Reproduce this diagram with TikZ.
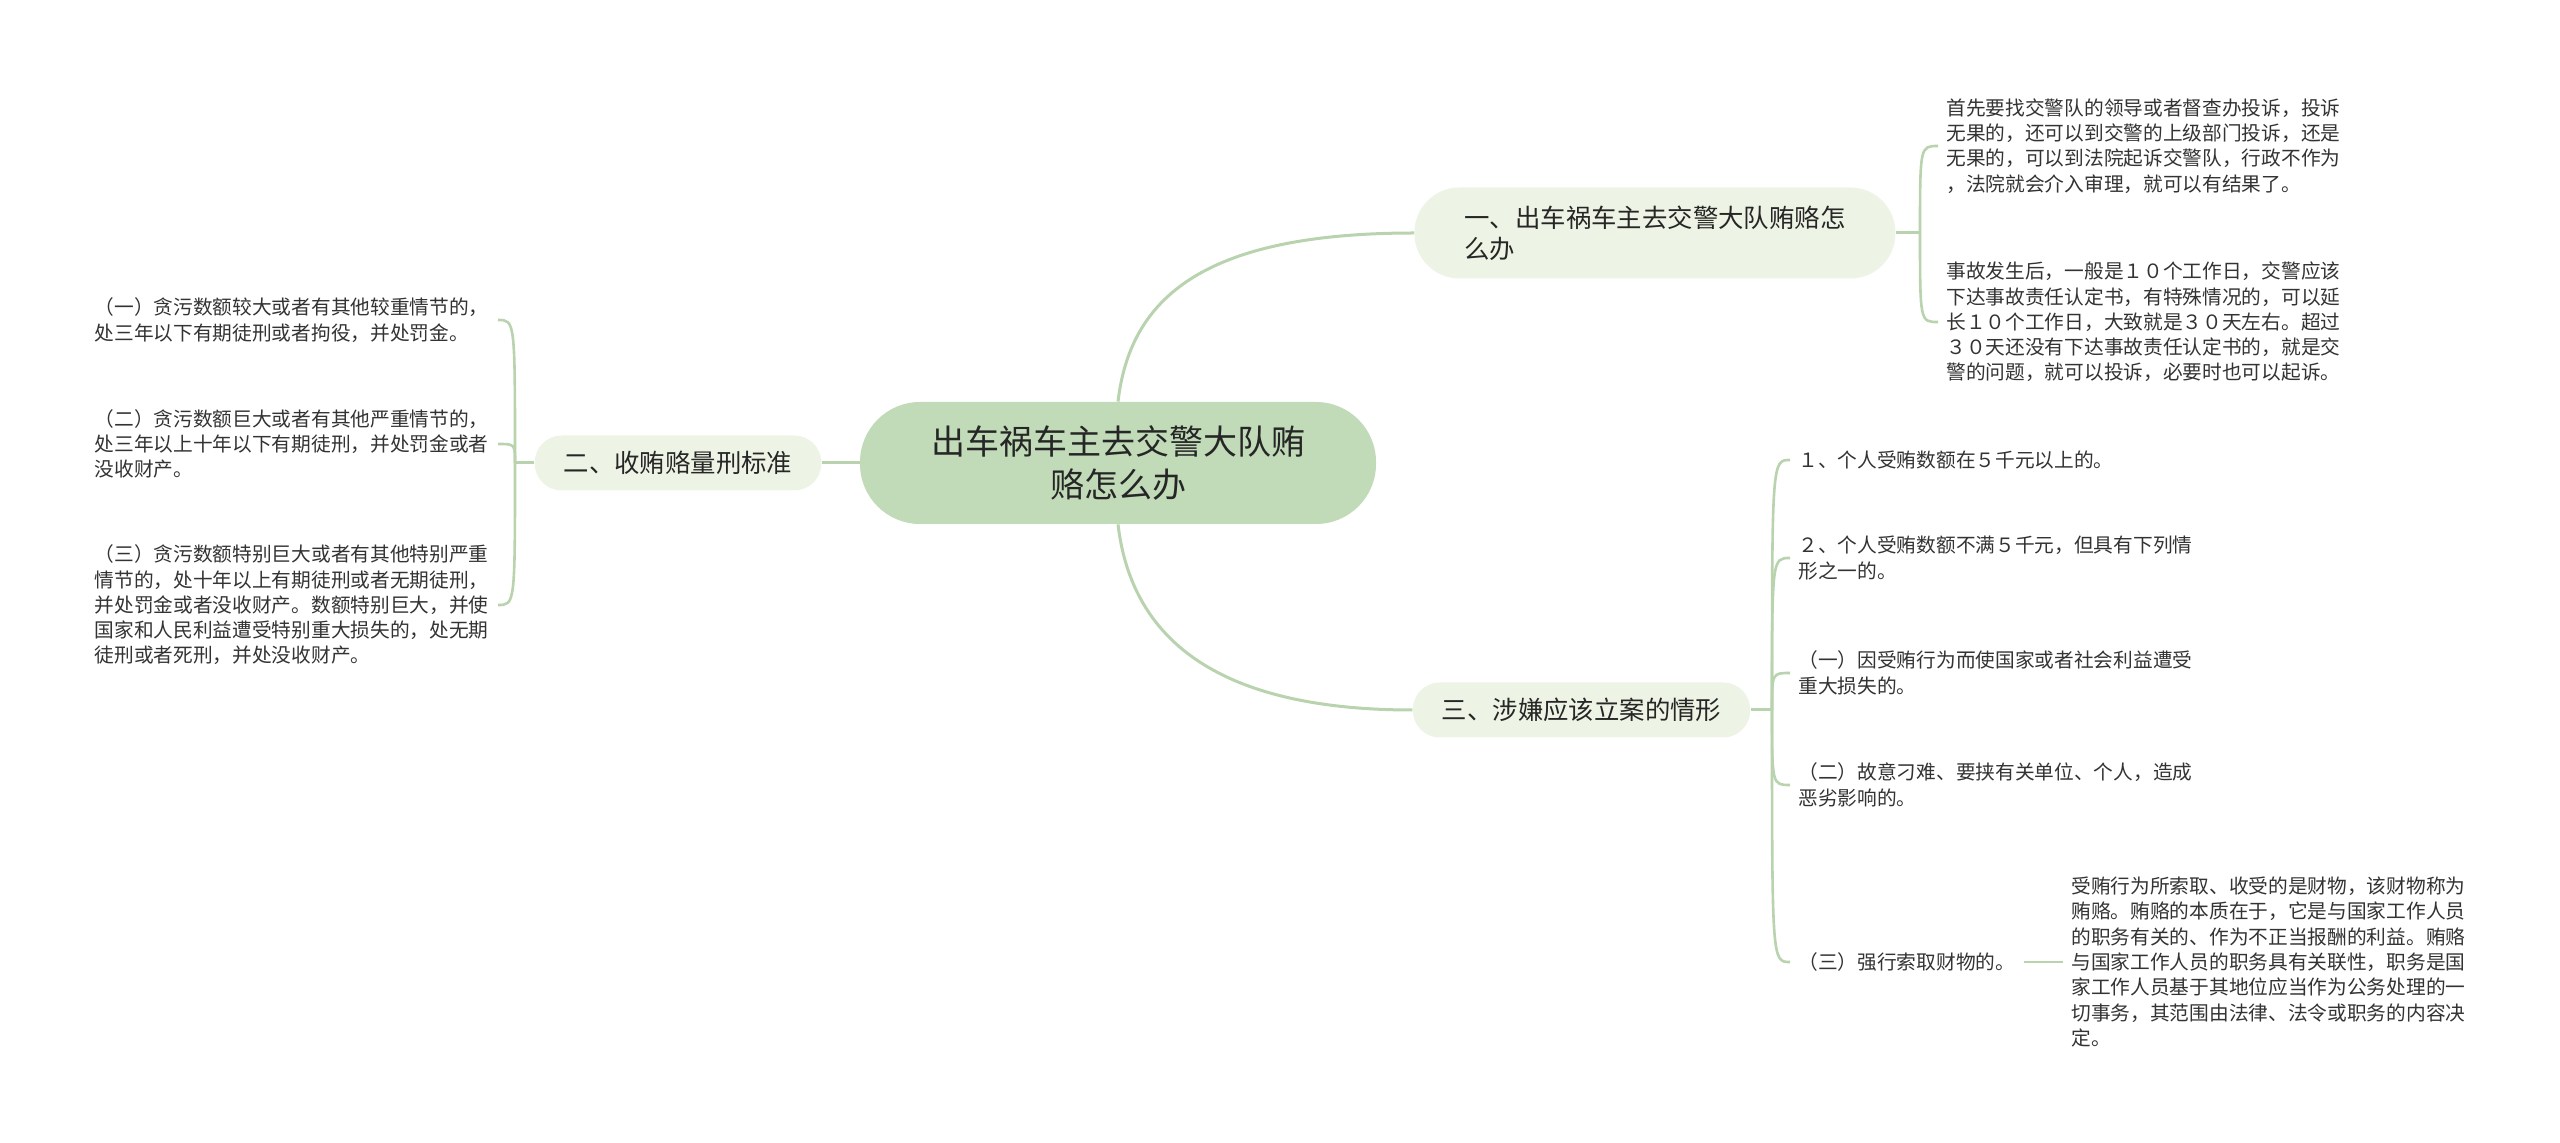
\documentclass[tikz,border=0pt]{standalone}
\usepackage{fontspec}
\setmainfont{Noto Sans CJK SC}
\usetikzlibrary{calc}
\definecolor{linec}{HTML}{B9D3AF}
\definecolor{rootfill}{HTML}{C1DBB9}
\definecolor{branchfill}{HTML}{EEF4E5}
\definecolor{leafc}{HTML}{333333}
\definecolor{textc}{HTML}{262626}
\begin{document}
\begin{tikzpicture}[x=0.5pt,y=-0.5pt,
  conn/.style={draw=linec, line width=1.5pt},
  bconn/.style={draw=linec, line width=1.3pt},
  leaf/.style={align=left, text width=197.5pt, inner xsep=4pt, inner ysep=2pt,
    font=\fontsize{9.85pt}{12.65pt}\selectfont, text=leafc},
  branchbox/.style={fill=branchfill, rounded corners=13.5pt, minimum height=27.5pt,
    inner xsep=14.5pt, font=\fontsize{12.7pt}{15.5pt}\selectfont, text=textc},
  rootbox/.style={fill=rootfill, rounded corners=30pt, minimum height=61pt,
    minimum width=258pt, align=center, font=\fontsize{17pt}{21.25pt}\selectfont, text=textc}
]
\useasboundingbox (0,0) rectangle (2560,1143);
\fill[white] (0,0) rectangle (2560,1143);

% root and branches
\node[rootbox] (root) at (1118,463) {出车祸车主去交警大队贿\\赂怎么办};
\node[branchbox, anchor=west, minimum height=45.5pt, rounded corners=22.5pt, inner xsep=25pt, align=left] (b1) at (1414,233) {一、出车祸车主去交警大队贿赂怎\\么办};
\node[branchbox] (b2) at (678,463) {二、收贿赂量刑标准};
\node[branchbox] (b3) at (1581.5,710) {三、涉嫌应该立案的情形};

\draw[conn] (root.north) .. controls (1130,300) and (1200,233) .. (b1.west);
\draw[conn] (root.south) .. controls (1130,626) and (1200,710) .. (b3.west);
\draw[conn] (root.west) -- (b2.east);

% branch 1 children
\coordinate (j1) at (1920,233);
\node[leaf, anchor=west] (t1) at (1938,146) {首先要找交警队的领导或者督查办投诉，投诉\\无果的，还可以到交警的上级部门投诉，还是\\无果的，可以到法院起诉交警队，行政不作为\\，法院就会介入审理，就可以有结果了。};
\node[leaf, anchor=west] (t2) at (1938,322) {事故发生后，一般是１０个工作日，交警应该\\下达事故责任认定书，有特殊情况的，可以延\\长１０个工作日，大致就是３０天左右。超过\\３０天还没有下达事故责任认定书的，就是交\\警的问题，就可以投诉，必要时也可以起诉。};
\draw[conn] (b1.east) -- (j1);
\draw[bconn] (j1) .. controls (j1 |- t1.west) .. (t1.west);
\draw[bconn] (j1) .. controls (j1 |- t2.west) .. (t2.west);

% branch 2 children
\coordinate (j2) at (515,463);
\node[leaf, anchor=east] (l1) at (498,320) {（一）贪污数额较大或者有其他较重情节的，\\处三年以下有期徒刑或者拘役，并处罚金。};
\node[leaf, anchor=east] (l2) at (498,444) {（二）贪污数额巨大或者有其他严重情节的，\\处三年以上十年以下有期徒刑，并处罚金或者\\没收财产。};
\node[leaf, anchor=east] (l3) at (498,605) {（三）贪污数额特别巨大或者有其他特别严重\\情节的，处十年以上有期徒刑或者无期徒刑，\\并处罚金或者没收财产。数额特别巨大，并使\\国家和人民利益遭受特别重大损失的，处无期\\徒刑或者死刑，并处没收财产。};
\draw[conn] (b2.west) -- (j2);
\draw[bconn] (j2) .. controls (j2 |- l1.east) .. (l1.east);
\draw[bconn] (j2) .. controls (j2 |- l2.east) .. (l2.east);
\draw[bconn] (j2) .. controls (j2 |- l3.east) .. (l3.east);

% branch 3 children
\coordinate (j3) at (1772,710);
\node[leaf, anchor=west] (c1) at (1790,460) {１、个人受贿数额在５千元以上的。};
\node[leaf, anchor=west] (c2) at (1790,558) {２、个人受贿数额不满５千元，但具有下列情\\形之一的。};
\node[leaf, anchor=west] (c3) at (1790,673) {（一）因受贿行为而使国家或者社会利益遭受\\重大损失的。};
\node[leaf, anchor=west] (c4) at (1790,785) {（二）故意刁难、要挟有关单位、个人，造成\\恶劣影响的。};
\node[leaf, anchor=west, text width=108.5pt] (c5) at (1790,962) {（三）强行索取财物的。};
\node[leaf, anchor=west] (d1) at (2063,962) {受贿行为所索取、收受的是财物，该财物称为\\贿赂。贿赂的本质在于，它是与国家工作人员\\的职务有关的、作为不正当报酬的利益。贿赂\\与国家工作人员的职务具有关联性，职务是国\\家工作人员基于其地位应当作为公务处理的一\\切事务，其范围由法律、法令或职务的内容决\\定。};
\draw[conn] (b3.east) -- (j3);
\draw[bconn] (j3) .. controls (j3 |- c1.west) .. (c1.west);
\draw[bconn] (j3) .. controls (j3 |- c2.west) .. (c2.west);
\draw[bconn] (j3) .. controls (j3 |- c3.west) .. (c3.west);
\draw[bconn] (j3) .. controls (j3 |- c4.west) .. (c4.west);
\draw[bconn] (j3) .. controls (j3 |- c5.west) .. (c5.west);
\draw[bconn] (c5.east) -- (d1.west);
\end{tikzpicture}
\end{document}
